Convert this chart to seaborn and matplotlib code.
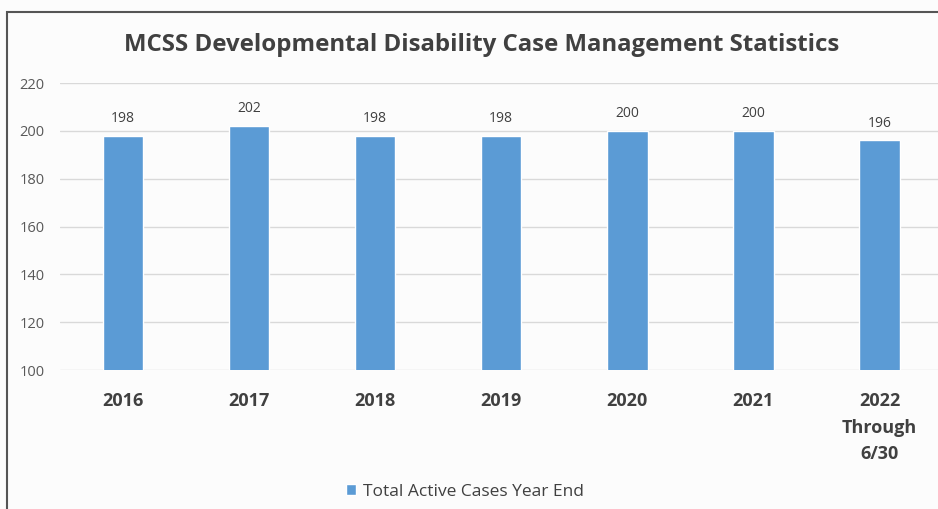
import matplotlib
matplotlib.use("Agg")
import matplotlib.pyplot as plt
import seaborn as sns
import pandas as pd
from matplotlib.patches import Rectangle

categories = ["2016", "2017", "2018", "2019", "2020", "2021", "2022\nThrough\n6/30"]
values = [198, 202, 198, 198, 200, 200, 196]
series_name = "Total Active Cases Year End"
yticks = [100, 120, 140, 160, 180, 200, 220]
title = "MCSS Developmental Disability Case Management Statistics"

sns.set_theme(style="white")
plt.rcParams["font.family"] = ["Open Sans", "DejaVu Sans"]

df = pd.DataFrame({"Year": categories, "Cases": values, "Series": series_name})

fig = plt.figure(figsize=(9.38, 5.09), dpi=100)
fig.patch.set_facecolor("#FCFCFC")
ax = fig.add_axes([60 / 938, 1 - 370 / 509, (940 - 60) / 938, (370 - 83) / 509])
ax.set_facecolor("#FCFCFC")

bar_color = "#5B9BD5"
sns.barplot(data=df, x="Year", y="Cases", hue="Series", palette=[bar_color],
            saturation=1, width=0.32, ax=ax, zorder=3, legend=True)

ax.set_ylim(100, 220)
ax.set_xlim(-0.5, 6.48)
ax.set_yticks(yticks)
ax.set_yticklabels([str(t) for t in yticks], fontsize=10.5, color="#595959")
ax.tick_params(axis="y", length=0, pad=11)
ax.tick_params(axis="x", length=0, pad=16)
for lbl in ax.get_xticklabels():
    lbl.set_fontsize(13)
    lbl.set_fontweight("bold")
    lbl.set_color("#404040")
    lbl.set_linespacing(1.6)
    lbl.set_verticalalignment("top")
ax.grid(axis="y", color="#D9D9D9", linewidth=1, zorder=0)
for s in ax.spines.values():
    s.set_visible(False)
ax.set_xlabel("")
ax.set_ylabel("")

for c in ax.containers:
    ax.bar_label(c, labels=[str(v) for v in values], padding=7, fontsize=10, color="#404040")

leg = ax.legend(loc="center", bbox_to_anchor=(465 / 938, 1 - 492 / 509),
                bbox_transform=fig.transFigure, frameon=False, fontsize=12.5,
                handlelength=0.6, handleheight=0.6, handletextpad=0.4)
for t in leg.get_texts():
    t.set_color("#404040")

fig.text(482 / 938, 1 - 45 / 509, title, ha="center", va="center",
         fontsize=17.3, fontweight="bold", color="#404040")

fig.add_artist(Rectangle((7 / 938, -0.05), 1.0, 1 - 12 / 509 + 0.05,
                         transform=fig.transFigure, fill=False,
                         edgecolor="#555555", linewidth=1.5))

fig.savefig("out.png", dpi=100, facecolor=fig.get_facecolor())
